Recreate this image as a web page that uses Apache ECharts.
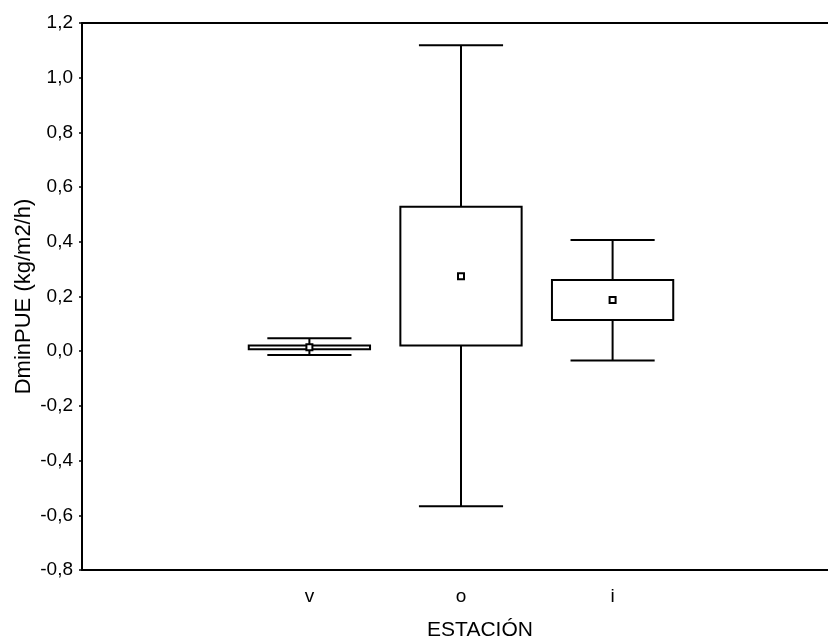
<!DOCTYPE html>
<html>
<head>
<meta charset="utf-8">
<script src="https://cdn.jsdelivr.net/npm/echarts@6/dist/echarts.min.js"></script>
<style>
  html, body { margin: 0; padding: 0; background: #fff; }
  #chart { width: 828px; height: 641px; }
</style>
</head>
<body>
<div id="chart"></div>
<script>
// categories (empty ones pad the axis like the original)
var categories = ['', 'v', 'o', 'i', ''];
var stations = [1, 2, 3];
var means = [0.014, 0.274, 0.187];
var boxLow = [0.007, 0.021, 0.114];
var boxHigh = [0.021, 0.528, 0.260];
var whiskerLow = [-0.014, -0.567, -0.034];
var whiskerHigh = [0.047, 1.119, 0.407];
var yTicks = { min: -0.8, max: 1.2, step: 0.2 };

var chart = echarts.init(document.getElementById('chart'));

var rows = stations.map(function (s, i) {
  return [s, whiskerLow[i], boxLow[i], boxHigh[i], whiskerHigh[i], means[i]];
});

var font = 'Liberation Sans, Arial, sans-serif';
var ink = '#000';

function renderBox(params, api) {
  var x = api.value(0);
  var band = api.size([1, 0])[0];
  var boxW = band * 0.8;
  var whW = band * 0.555;
  var wLo = api.coord([x, api.value(1)]);
  var bLo = api.coord([x, api.value(2)]);
  var bHi = api.coord([x, api.value(3)]);
  var wHi = api.coord([x, api.value(4)]);
  var m = api.coord([x, api.value(5)]);
  var cx = wLo[0];
  var line = { stroke: ink, lineWidth: 2, fill: null };
  return {
    type: 'group',
    children: [
      // whisker stems
      { type: 'line', shape: { x1: cx, y1: wHi[1], x2: cx, y2: bHi[1] }, style: line },
      { type: 'line', shape: { x1: cx, y1: bLo[1], x2: cx, y2: wLo[1] }, style: line },
      // whisker caps
      { type: 'line', shape: { x1: cx - whW / 2, y1: wHi[1], x2: cx + whW / 2, y2: wHi[1] }, style: line },
      { type: 'line', shape: { x1: cx - whW / 2, y1: wLo[1], x2: cx + whW / 2, y2: wLo[1] }, style: line },
      // box
      {
        type: 'rect',
        shape: { x: cx - boxW / 2, y: bHi[1], width: boxW, height: bLo[1] - bHi[1] },
        style: { stroke: ink, lineWidth: 2, fill: '#fff' }
      },
      // mean marker
      {
        type: 'rect',
        shape: { x: m[0] - 3, y: m[1] - 3, width: 6, height: 6 },
        style: { stroke: ink, lineWidth: 2, fill: '#fff' }
      }
    ]
  };
}

var option = {
  backgroundColor: '#fff',
  animation: false,
  grid: { left: 82, top: 23, width: 758, height: 547, outerBoundsMode: 'none', containLabel: false },
  xAxis: [
    {
      type: 'category',
      data: categories,
      position: 'bottom',
      axisLine: { onZero: false, lineStyle: { color: ink, width: 2 } },
      axisTick: { inside: true, length: 4, alignWithLabel: true, lineStyle: { color: ink, width: 2 } },
      axisLabel: { color: ink, fontSize: 19, fontFamily: font, margin: 17 }
    },
    {
      type: 'category',
      data: categories,
      position: 'top',
      axisLine: { onZero: false, lineStyle: { color: ink, width: 2 } },
      axisTick: { inside: true, length: 4, alignWithLabel: true, lineStyle: { color: ink, width: 2 } },
      axisLabel: { show: false }
    }
  ],
  yAxis: [
    {
      type: 'value',
      min: yTicks.min,
      max: yTicks.max,
      interval: yTicks.step,
      name: 'DminPUE (kg/m2/h)',
      nameLocation: 'middle',
      nameGap: 47,
      nameMoveOverlap: false,
      nameTextStyle: { color: ink, fontSize: 22, fontFamily: font },
      axisLine: { show: true, onZero: false, lineStyle: { color: ink, width: 2 } },
      axisTick: { show: true, length: 3, lineStyle: { color: ink, width: 1.5 } },
      axisLabel: {
        color: ink, fontSize: 19, fontFamily: font, margin: 9,
        formatter: function (v) { return v.toFixed(1).replace('.', ','); }
      },
      splitLine: { show: false }
    },
    {
      type: 'value',
      position: 'right',
      min: yTicks.min,
      max: yTicks.max,
      interval: yTicks.step,
      axisLine: { show: true, onZero: false, lineStyle: { color: ink, width: 2 } },
      axisTick: { show: false },
      axisLabel: { show: false },
      splitLine: { show: false }
    }
  ],
  graphic: [
    {
      type: 'text',
      x: 480,
      y: 630,
      style: {
        text: 'ESTACIÓN',
        fill: ink,
        fontSize: 21,
        fontFamily: font,
        align: 'center',
        verticalAlign: 'middle'
      }
    }
  ],
  series: [
    {
      type: 'custom',
      renderItem: renderBox,
      encode: { x: 0, y: [1, 2, 3, 4, 5] },
      data: rows
    }
  ]
};

chart.setOption(option);
</script>
</body>
</html>
